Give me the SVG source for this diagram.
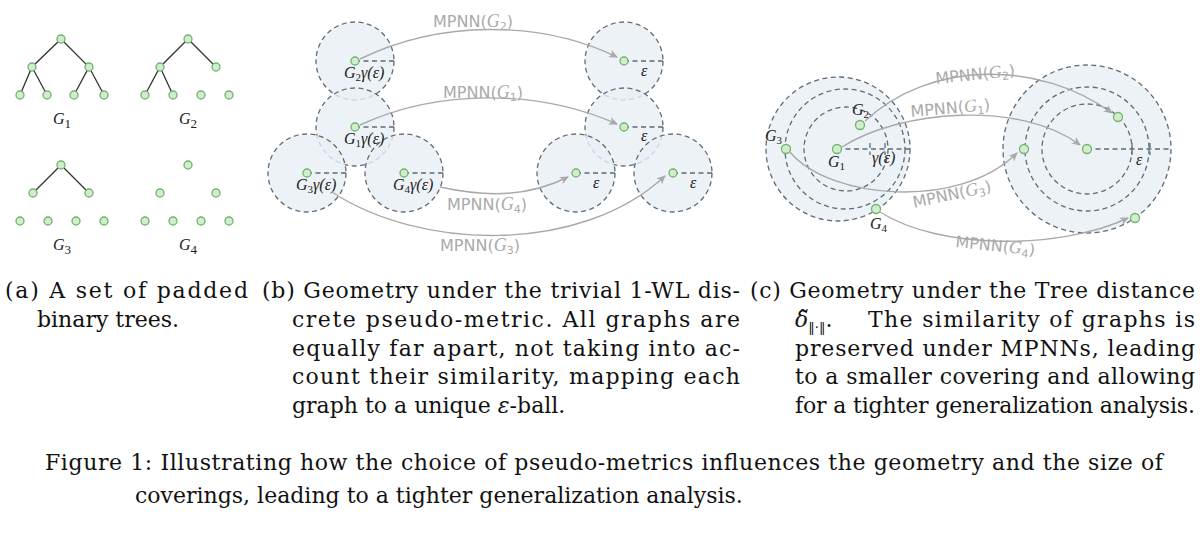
<svg xmlns="http://www.w3.org/2000/svg" width="1200" height="557" viewBox="0 0 1200 557">
<style>
.n{fill:#d3ecd0;stroke:#6fb56a;stroke-width:1.3}
.e{fill:none;stroke:#333;stroke-width:1.3}
.b{fill:#e9eff5;fill-opacity:0.8;stroke:#5f6b78;stroke-width:1.3;stroke-dasharray:5 3.5}
.r{fill:none;stroke:#5f6b78;stroke-width:1.3;stroke-dasharray:5 3.5}
.a{fill:none;stroke:#a9a9a9;stroke-width:1.4;marker-end:url(#ah)}
.t{font-family:"DejaVu Serif",serif;font-size:22px;fill:#111}
.m{font-family:"Liberation Serif",serif;font-style:italic;font-size:16px;fill:#222}
.s{font-family:"DejaVu Sans",sans-serif;font-size:16px;fill:#aaa}
.si{font-family:"Liberation Serif",serif;font-style:italic;font-size:18px;fill:#aaa}
</style>
<defs>
<marker id="ah" markerWidth="10" markerHeight="8" refX="8" refY="4" orient="auto" markerUnits="userSpaceOnUse"><path d="M0,0 L9,4 L0,8 L2.5,4z" fill="#a9a9a9"/></marker>
</defs>
<rect width="1200" height="557" fill="#fff"/>
<g id="panel-a">
<g id="G1"><path class="e" d="M61,39L32,67L20,95M32,67L47,95M61,39L89,67L74,95M89,67L104,95"/>
<circle class="n" cx="61" cy="39" r="4"/><circle class="n" cx="32" cy="67" r="4"/><circle class="n" cx="89" cy="67" r="4"/>
<circle class="n" cx="20" cy="95" r="4"/><circle class="n" cx="47" cy="95" r="4"/><circle class="n" cx="74" cy="95" r="4"/><circle class="n" cx="104" cy="95" r="4"/>
<text class="m" x="53" y="124" font-size="19">G<tspan font-style="normal" font-size="13" dy="4">1</tspan></text></g>
<g id="G2"><path class="e" d="M188,39L160,67L145,95M160,67L173,95M188,39L216,67"/>
<circle class="n" cx="188" cy="39" r="4"/><circle class="n" cx="160" cy="67" r="4"/><circle class="n" cx="216" cy="67" r="4"/>
<circle class="n" cx="145" cy="95" r="4"/><circle class="n" cx="173" cy="95" r="4"/><circle class="n" cx="201" cy="95" r="4"/><circle class="n" cx="229" cy="95" r="4"/>
<text class="m" x="179" y="124" font-size="19">G<tspan font-style="normal" font-size="13" dy="4">2</tspan></text></g>
<g id="G3"><path class="e" d="M61,165L33,193M61,165L89,193"/>
<circle class="n" cx="61" cy="165" r="4"/><circle class="n" cx="33" cy="193" r="4"/><circle class="n" cx="89" cy="193" r="4"/>
<circle class="n" cx="20" cy="221" r="4"/><circle class="n" cx="48" cy="221" r="4"/><circle class="n" cx="76" cy="221" r="4"/><circle class="n" cx="104" cy="221" r="4"/>
<text class="m" x="53" y="250" font-size="19">G<tspan font-style="normal" font-size="13" dy="4">3</tspan></text></g>
<g id="G4">
<circle class="n" cx="188" cy="165" r="4"/><circle class="n" cx="160" cy="193" r="4"/><circle class="n" cx="216" cy="193" r="4"/>
<circle class="n" cx="145" cy="221" r="4"/><circle class="n" cx="173" cy="221" r="4"/><circle class="n" cx="201" cy="221" r="4"/><circle class="n" cx="229" cy="221" r="4"/>
<text class="m" x="179" y="250" font-size="19">G<tspan font-style="normal" font-size="13" dy="4">4</tspan></text></g>
</g>
<g id="panel-b">
<g id="b-balls">
<circle class="b" cx="355" cy="61" r="39"/><circle class="b" cx="355" cy="127" r="39"/>
<circle class="b" cx="307" cy="173" r="39"/><circle class="b" cx="404" cy="173" r="39"/>
<circle class="b" cx="624" cy="61" r="39"/><circle class="b" cx="624" cy="127" r="39"/>
<circle class="b" cx="576" cy="173" r="39"/><circle class="b" cx="673" cy="173" r="39"/>
</g>
<g id="b-radii"><path class="r" d="M355,61H394M355,127H394M307,173H346M404,173H443M624,61H663M624,127H663M576,173H615M673,173H712"/></g>
<g id="b-nodes">
<circle class="n" cx="355" cy="61" r="4"/><circle class="n" cx="355" cy="127" r="4"/><circle class="n" cx="307" cy="173" r="4"/><circle class="n" cx="404" cy="173" r="4"/>
<circle class="n" cx="624" cy="61" r="4"/><circle class="n" cx="624" cy="127" r="4"/><circle class="n" cx="576" cy="173" r="4"/><circle class="n" cx="673" cy="173" r="4"/>
</g>
<g id="b-labels">
<text class="m" x="344" y="78">G<tspan font-size="11" font-style="normal" dy="3">2</tspan><tspan dy="-3">γ(ε)</tspan></text>
<text class="m" x="344" y="144">G<tspan font-size="11" font-style="normal" dy="3">1</tspan><tspan dy="-3">γ(ε)</tspan></text>
<text class="m" x="296" y="190">G<tspan font-size="11" font-style="normal" dy="3">3</tspan><tspan dy="-3">γ(ε)</tspan></text>
<text class="m" x="393" y="190">G<tspan font-size="11" font-style="normal" dy="3">4</tspan><tspan dy="-3">γ(ε)</tspan></text>
<text class="m" x="641" y="76">ε</text><text class="m" x="641" y="141">ε</text><text class="m" x="593" y="188">ε</text><text class="m" x="690" y="188">ε</text>
</g>
</g>
<g id="panel-c">
<g id="c-left">
<circle class="b" cx="838" cy="149" r="72"/><circle class="r" cx="845" cy="149" r="60"/><circle class="r" cx="846" cy="149" r="42"/>
<path class="r" d="M837,149H910M870,143V155M885,143V155"/>
<circle class="n" cx="837" cy="149" r="4.5"/><circle class="n" cx="860" cy="125" r="4.5"/><circle class="n" cx="786" cy="149" r="4.5"/><circle class="n" cx="876" cy="209" r="4.5"/>
<text class="m" x="852" y="115">G<tspan font-size="11" font-style="normal" dy="3">2</tspan></text>
<text class="m" x="765" y="141">G<tspan font-size="11" font-style="normal" dy="3">3</tspan></text>
<text class="m" x="828" y="167">G<tspan font-size="11" font-style="normal" dy="3">1</tspan></text>
<text class="m" x="870" y="229">G<tspan font-size="11" font-style="normal" dy="3">4</tspan></text>
<text class="m" x="872" y="163">γ(ε)</text>
</g>
<g id="c-right">
<circle class="b" cx="1087" cy="149" r="84"/><circle class="r" cx="1087" cy="149" r="62"/><circle class="r" cx="1087" cy="149" r="45"/>
<path class="r" d="M1087,149H1171M1132,143V155M1150,143V155"/>
<circle class="n" cx="1087" cy="149" r="4.5"/><circle class="n" cx="1118" cy="117" r="4.5"/><circle class="n" cx="1024" cy="149" r="4.5"/><circle class="n" cx="1135" cy="218" r="4.5"/>
<text class="m" x="1136" y="165">ε</text>
</g>
</g>
<g id="connectors">
<path class="a" d="M360,59C440,20 540,20 617,57"/>
<path class="a" d="M360,125C440,88 540,90 617,124"/>
<path class="a" d="M440,187C490,198 530,196 568,177"/>
<path class="a" d="M332,192C420,250 580,255 665,176"/>
<path class="a" d="M865,121C930,60 1040,60 1112,113"/>
<path class="a" d="M842,147C900,110 1020,100 1080,145"/>
<path class="a" d="M790,152C830,200 960,210 1017,153"/>
<path class="a" d="M880,212C940,250 1060,250 1128,218"/>
<text class="s" x="433" y="27">MPNN(<tspan class="si">G</tspan><tspan font-size="11" dy="3">2</tspan><tspan dy="-3">)</tspan></text>
<text class="s" x="443" y="98">MPNN(<tspan class="si">G</tspan><tspan font-size="11" dy="3">1</tspan><tspan dy="-3">)</tspan></text>
<text class="s" x="447" y="210">MPNN(<tspan class="si">G</tspan><tspan font-size="11" dy="3">4</tspan><tspan dy="-3">)</tspan></text>
<text class="s" x="440" y="251">MPNN(<tspan class="si">G</tspan><tspan font-size="11" dy="3">3</tspan><tspan dy="-3">)</tspan></text>
<text class="s" x="936" y="84" transform="rotate(-6 936 84)">MPNN(<tspan class="si">G</tspan><tspan font-size="11" dy="3">2</tspan><tspan dy="-3">)</tspan></text>
<text class="s" x="911" y="117" transform="rotate(-5 911 117)">MPNN(<tspan class="si">G</tspan><tspan font-size="11" dy="3">1</tspan><tspan dy="-3">)</tspan></text>
<text class="s" x="914" y="208" transform="rotate(-12 914 208)">MPNN(<tspan class="si">G</tspan><tspan font-size="11" dy="3">3</tspan><tspan dy="-3">)</tspan></text>
<text class="s" x="955" y="247" transform="rotate(6 955 247)">MPNN(<tspan class="si">G</tspan><tspan font-size="11" dy="3">4</tspan><tspan dy="-3">)</tspan></text>
</g>
<g id="captions">
<text class="t" x="5" y="298" textLength="243" lengthAdjust="spacing">(a) A set of padded</text>
<text class="t" x="37" y="327">binary trees.</text>
<text class="t" x="262" y="298" textLength="478" lengthAdjust="spacing">(b) Geometry under the trivial 1-WL dis-</text>
<text class="t" x="292" y="327" textLength="448" lengthAdjust="spacing">crete pseudo-metric. All graphs are</text>
<text class="t" x="292" y="356" textLength="448" lengthAdjust="spacing">equally far apart, not taking into ac-</text>
<text class="t" x="292" y="384" textLength="448" lengthAdjust="spacing">count their similarity, mapping each</text>
<text class="t" x="292" y="413">graph to a unique <tspan font-style="italic">ε</tspan>-ball.</text>
<text class="t" x="750" y="298" textLength="445" lengthAdjust="spacing">(c) Geometry under the Tree distance</text>
<text class="t" x="795" y="327"><tspan font-style="italic">δ̃</tspan><tspan font-size="13" dy="5">‖·‖</tspan><tspan dy="-5">.</tspan></text>
<text class="t" x="868" y="327" textLength="327" lengthAdjust="spacing">The similarity of graphs is</text>
<text class="t" x="795" y="356" textLength="400" lengthAdjust="spacing">preserved under MPNNs, leading</text>
<text class="t" x="795" y="384" textLength="400" lengthAdjust="spacing">to a smaller covering and allowing</text>
<text class="t" x="795" y="413" textLength="400" lengthAdjust="spacing">for a tighter generalization analysis.</text>
<text class="t" x="45" y="470" textLength="1118" lengthAdjust="spacing">Figure 1: Illustrating how the choice of pseudo-metrics influences the geometry and the size of</text>
<text class="t" x="135" y="503">coverings, leading to a tighter generalization analysis.</text>
</g>
</svg>
